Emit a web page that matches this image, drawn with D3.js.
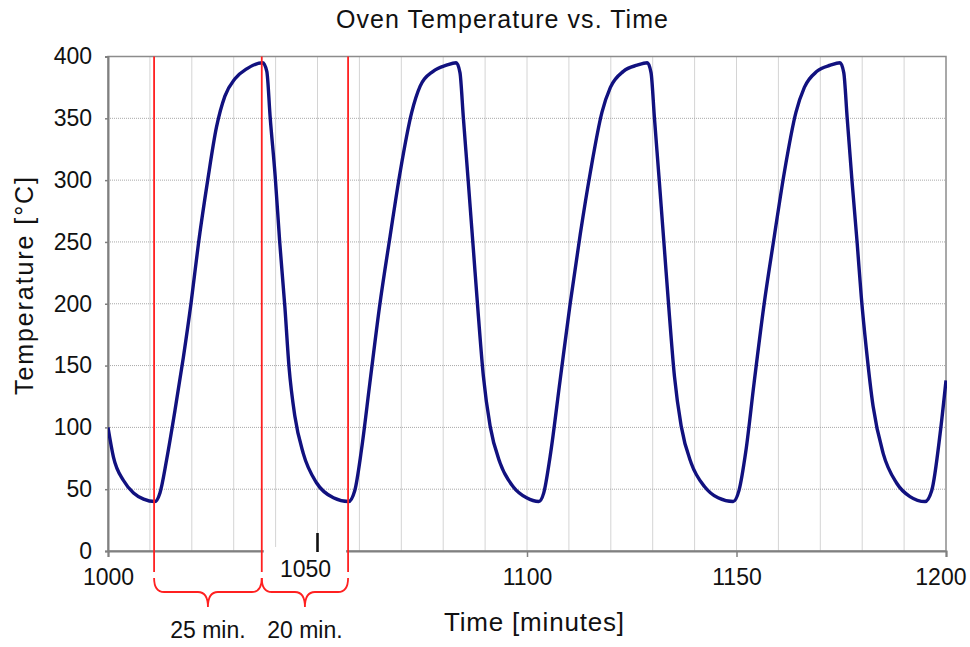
<!DOCTYPE html>
<html>
<head>
<meta charset="utf-8">
<script src="https://cdn.jsdelivr.net/npm/d3@7"></script>
<style>
  body { margin: 0; background: #fff; }
  text { font-family: "Liberation Sans", Arial, sans-serif; fill: #111; }
</style>
</head>
<body>
<div id="chart"></div>
<script>
// oven temperature samples
var times = [
  1000, 1001.3, 1003.7, 1006.1, 1008.5, 1011.2, 1012.4, 1014, 1016, 1018, 1019.8,
  1021.6, 1023.8, 1025.9, 1027.9, 1030.3, 1033.1, 1036.9, 1037.9, 1038.7, 1039.9,
  1041, 1042.2, 1043.2, 1044.6, 1046.6, 1049.8, 1053.8, 1057.4,
  1058.9, 1060.5, 1062.5, 1064.9, 1067.3, 1069.7, 1072.5, 1074.5, 1077.6, 1080.8,
  1083.1, 1084, 1084.8, 1086, 1087.2, 1088.4, 1089.6, 1091.2, 1093.6, 1096.7, 1099.9, 1102.8,
  1104, 1105.5, 1107.9, 1110.3, 1112.7, 1115.1, 1117.9, 1119.9, 1123, 1126.3,
  1128.7, 1129.6, 1130.4, 1131.6, 1132.8, 1134, 1135.2, 1136.8, 1139.2, 1142.4, 1145.6, 1149.2,
  1150.6, 1152.2, 1154.2, 1156.6, 1159, 1161.4, 1164.2, 1166.2, 1169.2, 1172.4,
  1174.7, 1175.6, 1176.4, 1177.6, 1178.8, 1179.8, 1181, 1182.6, 1185, 1188.2, 1191.4, 1195,
  1196.6, 1198.6, 1200
];
var temps = [
  100, 76, 57, 47, 42, 40, 47, 74, 114, 157, 200,
  249, 300, 343, 368, 382, 390, 395, 388, 351, 303,
  249, 198, 149, 109, 79, 55, 43, 40,
  49, 82, 136, 200, 254, 306, 355, 376, 388, 393,
  395, 387, 351, 298, 244, 190, 141, 101, 71, 52, 43, 40,
  47, 76, 138, 200, 256, 306, 355, 375, 388, 393,
  395, 387, 351, 298, 244, 190, 141, 101, 71, 52, 43, 40,
  49, 80, 136, 200, 254, 306, 355, 375, 388, 393,
  395, 387, 351, 298, 249, 205, 163, 117, 79, 55, 44, 40,
  49, 95, 138
];

var xTicks = [1000, 1050, 1100, 1150, 1200];
var yTicks = [0, 50, 100, 150, 200, 250, 300, 350, 400];
var xGrid = d3.range(1000, 1201, 10);

// red marker lines and the braces under them
var markTimes = [1011, 1036.7, 1057.3];
var spans = [
  {from: 1011, to: 1036.7, label: "25 min."},
  {from: 1036.7, to: 1057.3, label: "20 min."}
];

var W = 970, H = 647;
var margin = {top: 56.5, right: 24, bottom: 96, left: 108};

var svg = d3.select("#chart")
  .append("svg")
  .attr("width", W)
  .attr("height", H);

var x = d3.scaleLinear().domain([1000, 1200]).range([margin.left, W - margin.right]);
var y = d3.scaleLinear().domain([0, 400]).range([H - margin.bottom, margin.top]);

// grid
svg.append("g").selectAll("line")
  .data(xGrid.slice(1, -1))
  .enter().append("line")
  .attr("x1", d => x(d)).attr("x2", d => x(d))
  .attr("y1", y(400)).attr("y2", y(0))
  .attr("stroke", "#a8a8a8").attr("stroke-width", 1)
  .attr("stroke-dasharray", "1,1");

svg.append("g").selectAll("line")
  .data(yTicks.slice(1, -1))
  .enter().append("line")
  .attr("x1", x(1000)).attr("x2", x(1200))
  .attr("y1", d => y(d)).attr("y2", d => y(d))
  .attr("stroke", "#a8a8a8").attr("stroke-width", 1)
  .attr("stroke-dasharray", "1,1");

// frame (top / right)
svg.append("rect")
  .attr("x", x(1000)).attr("y", y(400))
  .attr("width", x(1200) - x(1000)).attr("height", y(0) - y(400))
  .attr("fill", "none").attr("stroke", "#8c8c8c").attr("stroke-width", 1.5);

// axes
var xAxis = svg.append("g")
  .attr("transform", "translate(0," + y(0) + ")")
  .call(d3.axisBottom(x).tickValues(xTicks).tickSize(6).tickPadding(12).tickFormat(d3.format("d")));
xAxis.select(".domain").attr("stroke", "#808080").attr("stroke-width", 2);
xAxis.selectAll(".tick line").attr("stroke", "#808080").attr("stroke-width", 1.5);
xAxis.selectAll(".tick text")
  .style("font-family", "Liberation Sans, Arial, sans-serif")
  .style("font-size", "23px").attr("fill", "#111")
  .attr("dy", "0.71em");
xAxis.selectAll(".tick text").filter(d => d === 1050).remove();
// last label sits against the right edge
xAxis.selectAll(".tick text").filter(d => d === 1200)
  .attr("text-anchor", "end").attr("x", 20);

var yAxis = svg.append("g")
  .attr("transform", "translate(" + x(1000) + ",0)")
  .call(d3.axisLeft(y).tickValues(yTicks).tickSize(3).tickPadding(13));
yAxis.select(".domain").attr("stroke", "#808080").attr("stroke-width", 2);
yAxis.selectAll(".tick line").attr("stroke", "#808080").attr("stroke-width", 1.5);
yAxis.selectAll(".tick text")
  .style("font-family", "Liberation Sans, Arial, sans-serif")
  .style("font-size", "23px").attr("fill", "#111");

// temperature curve
var pts = times.map((t, i) => [t, temps[i]]);
svg.append("defs").append("clipPath").attr("id", "plotclip")
  .append("rect")
  .attr("x", x(1000)).attr("y", y(400) - 5)
  .attr("width", x(1200) - x(1000) + 1).attr("height", y(0) - y(400) + 5);

svg.append("path")
  .datum(pts)
  .attr("clip-path", "url(#plotclip)")
  .attr("fill", "none")
  .attr("stroke", "#11117f")
  .attr("stroke-width", 3.4)
  .attr("stroke-linejoin", "round")
  .attr("d", d3.line().x(d => x(d[0])).y(d => y(d[1])).curve(d3.curveMonotoneX));

// red markers
svg.append("g").selectAll("line")
  .data(markTimes)
  .enter().append("line")
  .attr("x1", d => x(d)).attr("x2", d => x(d))
  .attr("y1", y(400)).attr("y2", y(0) + 21)
  .attr("stroke", "#ff2020").attr("stroke-width", 1.8);

// white patch over the axis with the hand-placed 1050 label
var lx = x(1050);
svg.append("rect")
  .attr("x", x(1036.7) + 2).attr("y", y(0) - 4)
  .attr("width", x(1057.3) - x(1036.7) - 4).attr("height", 40)
  .attr("fill", "#fff");
svg.append("line")
  .attr("x1", lx).attr("x2", lx)
  .attr("y1", y(0) - 18).attr("y2", y(0) + 1)
  .attr("stroke", "#111").attr("stroke-width", 2.6);
svg.append("text")
  .attr("x", lx - 12).attr("y", y(0) + 26)
  .attr("text-anchor", "middle")
  .style("font-size", "23px")
  .text("1050");

// braces
var by0 = y(0) + 27, by1 = y(0) + 41, by2 = y(0) + 56;
spans.forEach(function (s) {
  var a = x(s.from), b = x(s.to), c = (a + b) / 2;
  var p = d3.path();
  p.moveTo(a, by0);
  p.quadraticCurveTo(a, by1, a + 10, by1);
  p.lineTo(c - 10, by1);
  p.quadraticCurveTo(c, by1, c, by2);
  p.quadraticCurveTo(c, by1, c + 10, by1);
  p.lineTo(b - 10, by1);
  p.quadraticCurveTo(b, by1, b, by0);
  svg.append("path")
    .attr("d", p.toString())
    .attr("fill", "none")
    .attr("stroke", "#ff2020")
    .attr("stroke-width", 1.8);
  svg.append("text")
    .attr("x", c).attr("y", y(0) + 87)
    .attr("text-anchor", "middle")
    .style("font-size", "23px")
    .text(s.label);
});

// titles
svg.append("text")
  .attr("x", 502).attr("y", 28)
  .attr("text-anchor", "middle")
  .style("font-size", "25px")
  .attr("textLength", 332)
  .text("Oven Temperature vs. Time");

svg.append("text")
  .attr("x", 534).attr("y", 631)
  .attr("text-anchor", "middle")
  .style("font-size", "26px")
  .attr("textLength", 180)
  .text("Time [minutes]");

svg.append("text")
  .attr("transform", "translate(33,286) rotate(-90)")
  .attr("text-anchor", "middle")
  .style("font-size", "25px")
  .attr("textLength", 218)
  .text("Temperature [°C]");
</script>
</body>
</html>
